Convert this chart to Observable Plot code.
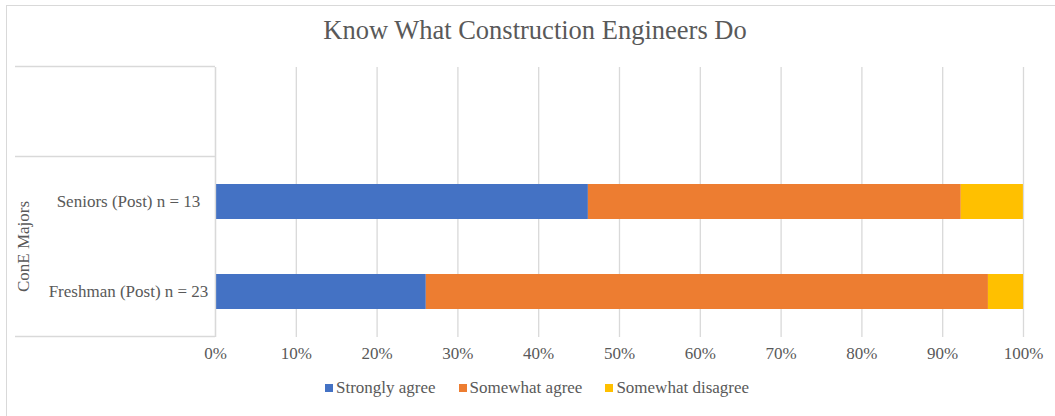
<!DOCTYPE html>
<html>
<head>
<meta charset="utf-8">
<script src="https://cdn.jsdelivr.net/npm/d3@7"></script>
<script src="https://cdn.jsdelivr.net/npm/@observablehq/plot@0.6"></script>
<style>
  html, body { margin: 0; padding: 0; background: #fff; overflow: hidden; }
  #wrap { position: relative; width: 1055px; height: 416px; overflow: hidden; font-family: 'Liberation Serif', serif; color: #595959; }
  #border { position: absolute; left: 6px; top: 5px; width: 1100px; height: 480px; border: 1.5px solid #d9d9d9; box-sizing: border-box; }
  #title { position: absolute; left: 0; width: 1070px; top: 13px; text-align: center; font-size: 26.5px; line-height: 34px; color: #595959; font-family: 'Liberation Serif', serif; }
  #chart { position: absolute; left: 0; top: 0; }
  #chart svg, #chart svg text { font-family: 'Liberation Serif', serif !important; }
  #legend { position: absolute; left: 0; width: 1074px; top: 377px; display: flex; justify-content: center; gap: 23px; font-size: 17px; line-height: 22px; font-family: 'Liberation Serif', serif; }
  .item { display: flex; align-items: center; }
  .sw { width: 8px; height: 8px; margin-right: 3px; }
</style>
</head>
<body>
<div id="wrap">
  <div id="border"></div>
  <div id="title">Know What Construction Engineers Do</div>
  <div id="chart"></div>
  <div id="legend"></div>
</div>
<script>
const categories = ["", "Seniors (Post) n = 13", "Freshman (Post) n = 23"];
const groupLabel = "ConE Majors";
const groupMembers = ["Seniors (Post) n = 13", "Freshman (Post) n = 23"];
const seriesNames = ["Strongly agree", "Somewhat agree", "Somewhat disagree"];
const seriesColors = ["#4472C4", "#ED7D31", "#FFC000"];
const stronglyAgree = [null, 0.4615, 0.2609];
const somewhatAgree = [null, 0.4615, 0.6957];
const somewhatDisagree = [null, 0.0769, 0.0435];
const xTicks = [0, 0.1, 0.2, 0.3, 0.4, 0.5, 0.6, 0.7, 0.8, 0.9, 1.0];

const FONT = "Liberation Serif";
const seriesValues = [stronglyAgree, somewhatAgree, somewhatDisagree];
const rows = [];
categories.forEach((c, i) => {
  seriesNames.forEach((s, j) => {
    const v = seriesValues[j][i];
    if (v != null) rows.push({category: c, series: s, value: v});
  });
});

// Decorative category-axis structure (group separators and group label)
function categoryStructure(index, scales, values, dimensions) {
  const y = scales.y;
  const step = y && y.step ? y.step() : (dimensions.height - dimensions.marginTop - dimensions.marginBottom) / categories.length;
  const bw = y && y.bandwidth ? y.bandwidth() : step * 0.39;
  const half = (step - bw) / 2;
  const x0 = 15, x1 = dimensions.marginLeft;
  const g = d3.create("svg:g");
  const edges = [y(categories[0]) - half, y(groupMembers[0]) - half, y(groupMembers[groupMembers.length - 1]) + bw + half];
  for (const e of edges) {
    g.append("line").attr("x1", x0).attr("x2", x1).attr("y1", e).attr("y2", e)
      .attr("stroke", "#d9d9d9").attr("stroke-width", 1.3);
  }
  const mid = (edges[1] + edges[2]) / 2;
  g.append("text").attr("transform", `translate(${x0 + 10},${mid}) rotate(-90)`)
    .attr("text-anchor", "middle").attr("dominant-baseline", "middle")
    .attr("fill", "#595959").attr("font-size", 17).attr("font-family", FONT)
    .text(groupLabel);
  return g.node();
}

const plot = Plot.plot({
  width: 1055,
  height: 370,
  marginLeft: 215,
  marginRight: 32,
  marginTop: 67,
  marginBottom: 33,
  style: {fontFamily: FONT, fontSize: "17px", color: "#595959", background: "transparent", overflow: "visible"},
  x: {domain: [0, 1], ticks: xTicks},
  y: {domain: categories, paddingInner: 0.61, paddingOuter: 0.305, label: null},
  color: {domain: seriesNames, range: seriesColors},
  marks: [
    Plot.gridX(xTicks, {stroke: "#d9d9d9", strokeOpacity: 1, strokeWidth: 1.3}),
    Plot.barX(rows, Plot.stackX({x: "value", y: "category", fill: "series", order: seriesNames})),
    Plot.axisX(xTicks, {tickSize: 0, tickPadding: 9, tickFormat: d => Math.round(d * 100) + "%", label: null, fill: "#595959", fontSize: 17, fontFamily: FONT}),
    Plot.axisY({tickSize: 0, tickPadding: 87, textAnchor: "middle", label: null, fill: "#595959", fontSize: 17, fontFamily: FONT}),
    Plot.ruleX([0], {stroke: "#d9d9d9", strokeWidth: 1.3}),
    categoryStructure
  ]
});
plot.setAttribute("font-family", FONT);
d3.select(plot).selectAll("text").attr("font-family", FONT);
document.getElementById("chart").appendChild(plot);

const legend = document.getElementById("legend");
seriesNames.forEach((s, i) => {
  const it = document.createElement("div");
  it.className = "item";
  const sw = document.createElement("div");
  sw.className = "sw";
  sw.style.background = seriesColors[i];
  const t = document.createElement("span");
  t.textContent = s;
  it.appendChild(sw); it.appendChild(t);
  legend.appendChild(it);
});
</script>
</body>
</html>
